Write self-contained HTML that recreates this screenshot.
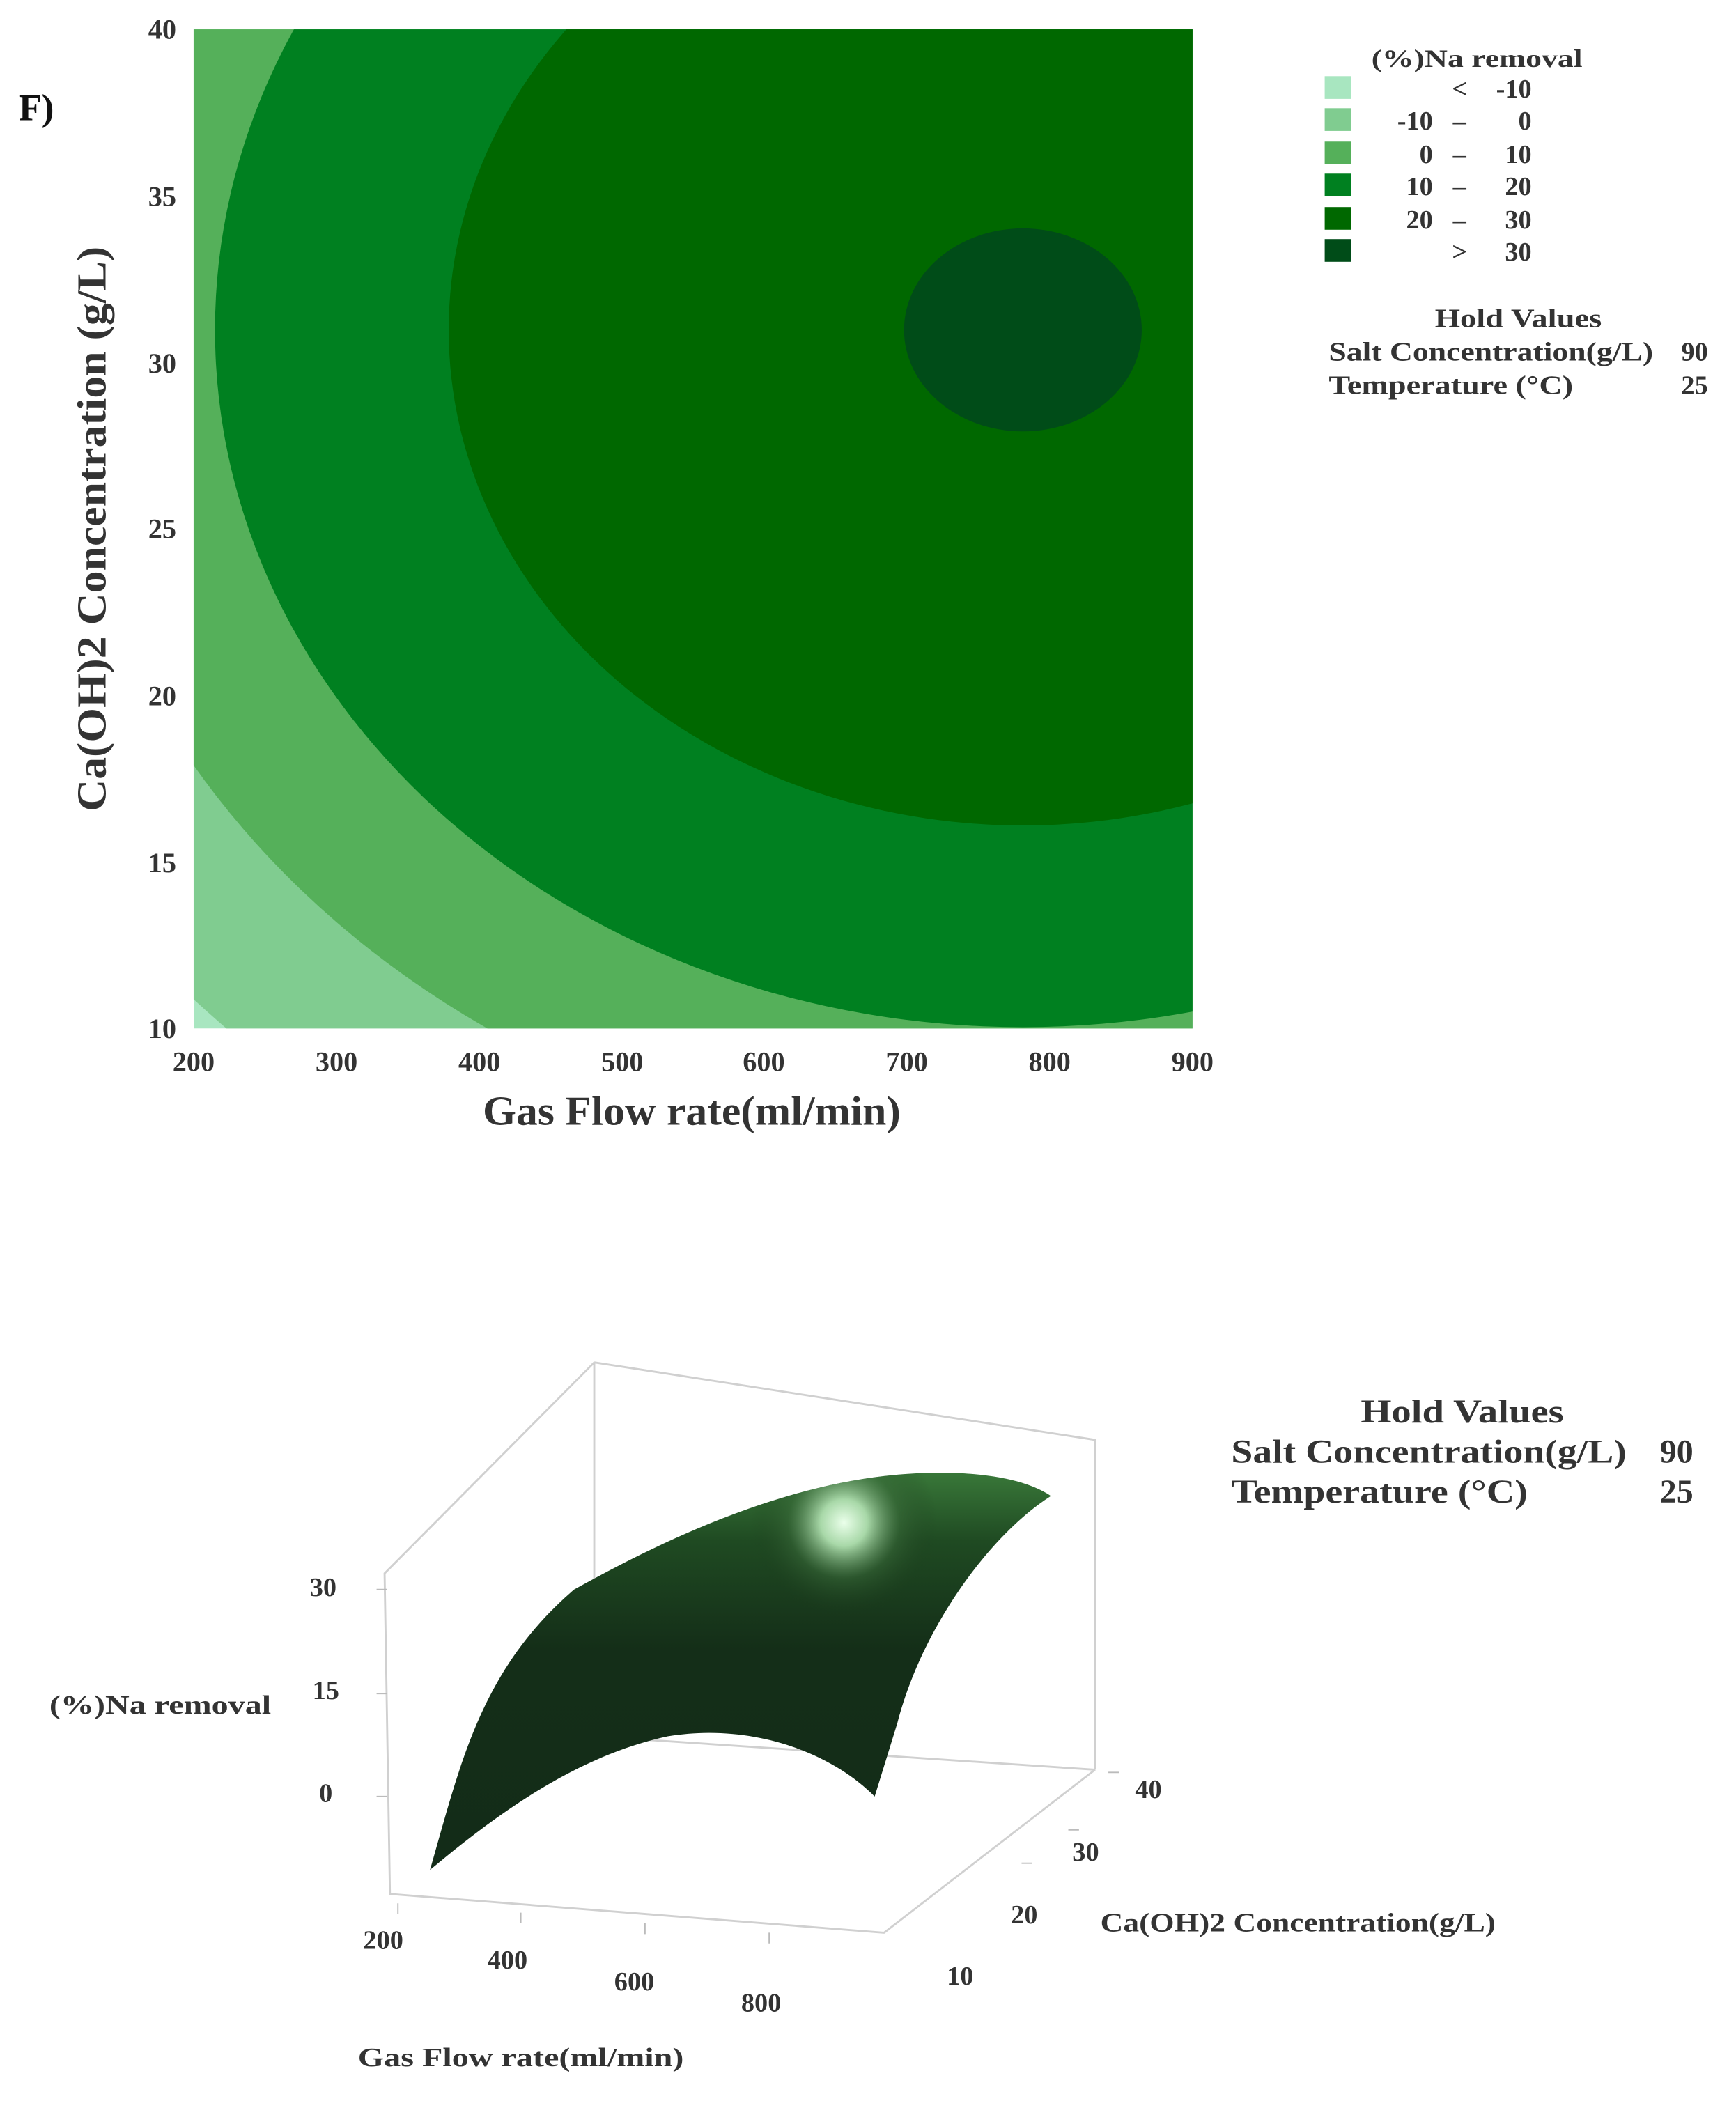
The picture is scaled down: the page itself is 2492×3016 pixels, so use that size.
<!DOCTYPE html>
<html><head><meta charset="utf-8"><style>
html,body{margin:0;padding:0;background:#fff;}
svg{display:block;}
text{font-family:"Liberation Serif",serif;font-weight:bold;fill:#333;}
</style></head><body>
<svg width="2492" height="3016" viewBox="0 0 1300 1573" preserveAspectRatio="none" xmlns="http://www.w3.org/2000/svg">
<defs>
<clipPath id="pc"><rect x="145" y="22" width="748" height="748"/></clipPath>
<radialGradient id="hl" cx="632" cy="1140" r="70" gradientUnits="userSpaceOnUse">
<stop offset="0" stop-color="#eaffea"/><stop offset="0.25" stop-color="#a8d8a8"/><stop offset="0.6" stop-color="#3a6a3a" stop-opacity="0.5"/><stop offset="1" stop-color="#1a3a1a" stop-opacity="0"/>
</radialGradient>
<linearGradient id="sg" x1="0" y1="1100" x2="0" y2="1400" gradientUnits="userSpaceOnUse">
<stop offset="0" stop-color="#3a7a3a"/><stop offset="0.18" stop-color="#1f4a22"/><stop offset="0.45" stop-color="#142e18"/><stop offset="1" stop-color="#132c18"/>
</linearGradient>
</defs>
<text x="14" y="90" font-size="28" fill="#111" style="fill:#111">F)</text>
<g clip-path="url(#pc)">
<rect x="145" y="22" width="748" height="748" fill="#a8e6c0"/>
<ellipse cx="766" cy="247" rx="850" ry="734" fill="#80cc90"/>
<ellipse cx="766" cy="247" rx="727" ry="627" fill="#55b05a"/>
<ellipse cx="766" cy="247" rx="605" ry="522" fill="#008020"/>
<ellipse cx="766" cy="247" rx="430" ry="371" fill="#006800"/>
<ellipse cx="766" cy="247" rx="89" ry="76" fill="#004c18"/>
</g>
<g font-size="21" text-anchor="end">
<text x="132" y="29">40</text><text x="132" y="154">35</text><text x="132" y="279">30</text>
<text x="132" y="403">25</text><text x="132" y="528">20</text><text x="132" y="653">15</text><text x="132" y="777">10</text>
</g>
<g font-size="21" text-anchor="middle">
<text x="145" y="802">200</text><text x="252" y="802">300</text><text x="359" y="802">400</text>
<text x="466" y="802">500</text><text x="572" y="802">600</text><text x="679" y="802">700</text>
<text x="786" y="802">800</text><text x="893" y="802">900</text>
</g>
<text x="518" y="842" font-size="31" text-anchor="middle" textLength="313" lengthAdjust="spacingAndGlyphs">Gas Flow rate(ml/min)</text>
<text transform="translate(79,396) rotate(-90)" font-size="31" text-anchor="middle" textLength="423" lengthAdjust="spacingAndGlyphs">Ca(OH)2 Concentration (g/L)</text>
<text x="1106" y="50" font-size="19" text-anchor="middle" textLength="158" lengthAdjust="spacingAndGlyphs">(%)Na removal</text>
<rect x="992" y="57" width="20" height="17" fill="#a8e6c0"/>
<rect x="992" y="81" width="20" height="17" fill="#80cc90"/>
<rect x="992" y="106" width="20" height="17" fill="#55b05a"/>
<rect x="992" y="130" width="20" height="17" fill="#008020"/>
<rect x="992" y="155" width="20" height="17" fill="#006800"/>
<rect x="992" y="179" width="20" height="17" fill="#004c18"/>
<g font-size="20">
<text x="1093" y="73" text-anchor="middle">&lt;</text><text x="1147" y="73" text-anchor="end">-10</text>
<text x="1073" y="97" text-anchor="end">-10</text><text x="1093" y="97" text-anchor="middle">–</text><text x="1147" y="97" text-anchor="end">0</text>
<text x="1073" y="122" text-anchor="end">0</text><text x="1093" y="122" text-anchor="middle">–</text><text x="1147" y="122" text-anchor="end">10</text>
<text x="1073" y="146" text-anchor="end">10</text><text x="1093" y="146" text-anchor="middle">–</text><text x="1147" y="146" text-anchor="end">20</text>
<text x="1073" y="171" text-anchor="end">20</text><text x="1093" y="171" text-anchor="middle">–</text><text x="1147" y="171" text-anchor="end">30</text>
<text x="1093" y="195" text-anchor="middle">&gt;</text><text x="1147" y="195" text-anchor="end">30</text>
<text x="1137" y="245" text-anchor="middle" textLength="125" lengthAdjust="spacingAndGlyphs">Hold Values</text>
<text x="995" y="270" textLength="243" lengthAdjust="spacingAndGlyphs">Salt Concentration(g/L)</text><text x="1279" y="270" text-anchor="end">90</text>
<text x="995" y="295" textLength="183" lengthAdjust="spacingAndGlyphs">Temperature (°C)</text><text x="1279" y="295" text-anchor="end">25</text>
</g>
<!-- 3D -->
<g stroke="#d0d0d0" stroke-width="1.5" fill="none">
<path d="M445 1020 L820 1078 L820 1325 M445 1020 L445 1300 L820 1325 M445 1020 L288 1178 L292 1418 L662 1447 L820 1325"/>
</g>
<g stroke="#bbb" stroke-width="1">
<path d="M282 1190 h8 M282 1268 h8 M282 1345 h8 M298 1425 v8 M390 1432 v8 M483 1440 v8 M576 1447 v8 M830 1327 h8 M800 1370 h8 M765 1395 h8"/>
</g>
<path d="M322 1400 C345 1320 360 1250 430 1190 C520 1140 620 1098 720 1103 C755 1105 775 1112 787 1120 C740 1150 690 1220 672 1290 L655 1345 C620 1310 560 1290 500 1300 C430 1315 370 1360 322 1400 Z" fill="url(#sg)"/>
<path d="M322 1400 C345 1320 360 1250 430 1190 C520 1140 620 1098 720 1103 C755 1105 775 1112 787 1120 C740 1150 690 1220 672 1290 L655 1345 C620 1310 560 1290 500 1300 C430 1315 370 1360 322 1400 Z" fill="url(#hl)"/>
<g font-size="20">
<text x="252" y="1195" text-anchor="end">30</text><text x="254" y="1272" text-anchor="end">15</text><text x="249" y="1349" text-anchor="end">0</text>
<text x="120" y="1283" text-anchor="middle" textLength="166" lengthAdjust="spacingAndGlyphs">(%)Na removal</text>
<text x="287" y="1459" text-anchor="middle">200</text><text x="380" y="1474" text-anchor="middle">400</text>
<text x="475" y="1490" text-anchor="middle">600</text><text x="570" y="1506" text-anchor="middle">800</text>
<text x="860" y="1346" text-anchor="middle">40</text><text x="813" y="1393" text-anchor="middle">30</text>
<text x="767" y="1440" text-anchor="middle">20</text><text x="719" y="1486" text-anchor="middle">10</text>
<text x="972" y="1446" text-anchor="middle" textLength="296" lengthAdjust="spacingAndGlyphs">Ca(OH)2 Concentration(g/L)</text>
<text x="390" y="1547" text-anchor="middle" textLength="244" lengthAdjust="spacingAndGlyphs">Gas Flow rate(ml/min)</text>
</g>
<g font-size="25">
<text x="1095" y="1065" text-anchor="middle" textLength="152" lengthAdjust="spacingAndGlyphs">Hold Values</text>
<text x="922" y="1095" textLength="296" lengthAdjust="spacingAndGlyphs">Salt Concentration(g/L)</text><text x="1268" y="1095" text-anchor="end">90</text>
<text x="922" y="1125" textLength="222" lengthAdjust="spacingAndGlyphs">Temperature (°C)</text><text x="1268" y="1125" text-anchor="end">25</text>
</g>
</svg>
</body></html>
